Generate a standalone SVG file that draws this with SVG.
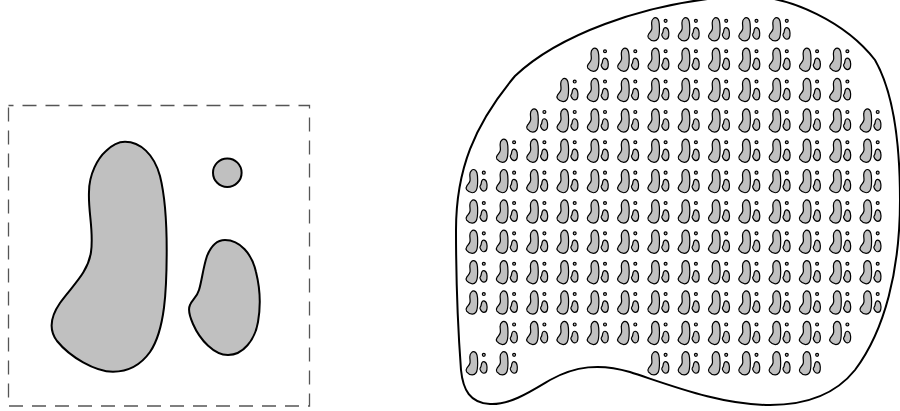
<svg xmlns="http://www.w3.org/2000/svg" xmlns:xlink="http://www.w3.org/1999/xlink" width="900" height="411" viewBox="0 0 900 411">
<style>
.b{fill:#c0c0c0;stroke:#000;stroke-linejoin:round}
.frame{fill:none;stroke:#555;stroke-width:1.3;stroke-dasharray:14 9;stroke-dashoffset:9}
.outer{fill:#fff;stroke:#000;stroke-width:2}
</style>
<defs>
<g id="shapes">
<path class="b" d="M125,141.7 C140,141.7 154,154 160,176 C165,196 166.7,225 166.7,250 C166.7,290 165,330 150,352 C140,366 126,371.7 113,371.7 C95,371.7 70,357 57,341 C48,329 51,316 60,303 C72,286 88,273 91,252 C94,231 88,212 89,192 C89,174 98,158 106,151 C112,145 118,141.7 125,141.7 Z"/>
<circle class="b" cx="227.3" cy="172.7" r="14.3"/>
<path class="b" d="M225,240 C240,240 252,254 256,272 C260,288 261,305 258,322 C255,340 243,355 228,355 C214,355 200,340 193,324 C189,315 188,309 190,305 C192,300 197,297 199,290 C202,280 203,268 207,256 C211,246 217,240 225,240 Z"/>
</g>
<g id="tile" transform="scale(0.101) translate(-8.5,-105)" stroke-width="12"><use xlink:href="#shapes" href="#shapes"/></g>
</defs>
<rect x="0" y="0" width="900" height="411" fill="#fff"/>
<g id="motif-panel">
<rect class="frame" x="8.5" y="105.5" width="301" height="300.5"/>
<g id="motif" stroke-width="2"><use xlink:href="#shapes" href="#shapes"/></g>
</g>
<g id="region">
<path class="outer" d="M740,-4 C792,-6 848,25 875,60 C895,95 900,150 900,200 C900,270 885,330 855,370 C835,395 805,405 770,405 C720,405 670,385 630,372 C600,363 575,366 550,380 C530,392 510,405 490,404 C470,403 463,390 461,370 C458,330 456,280 456,230 C456,170 474,125 515,76 C555,38 640,2 740,-4 Z"/>
</g>
<g id="tiles">
<g id="row0">
<use href="#tile" x="643.5" y="14"/><use href="#tile" x="673.8" y="14"/><use href="#tile" x="704.1" y="14"/><use href="#tile" x="734.4" y="14"/><use href="#tile" x="764.7" y="14"/>
</g>
<g id="row1">
<use href="#tile" x="582.9" y="44.4"/><use href="#tile" x="613.2" y="44.4"/><use href="#tile" x="643.5" y="44.4"/><use href="#tile" x="673.8" y="44.4"/><use href="#tile" x="704.1" y="44.4"/><use href="#tile" x="734.4" y="44.4"/><use href="#tile" x="764.7" y="44.4"/><use href="#tile" x="795" y="44.4"/><use href="#tile" x="825.3" y="44.4"/>
</g>
<g id="row2">
<use href="#tile" x="552.6" y="74.7"/><use href="#tile" x="582.9" y="74.7"/><use href="#tile" x="613.2" y="74.7"/><use href="#tile" x="643.5" y="74.7"/><use href="#tile" x="673.8" y="74.7"/><use href="#tile" x="704.1" y="74.7"/><use href="#tile" x="734.4" y="74.7"/><use href="#tile" x="764.7" y="74.7"/><use href="#tile" x="795" y="74.7"/><use href="#tile" x="825.3" y="74.7"/>
</g>
<g id="row3">
<use href="#tile" x="522.3" y="105.1"/><use href="#tile" x="552.6" y="105.1"/><use href="#tile" x="582.9" y="105.1"/><use href="#tile" x="613.2" y="105.1"/><use href="#tile" x="643.5" y="105.1"/><use href="#tile" x="673.8" y="105.1"/><use href="#tile" x="704.1" y="105.1"/><use href="#tile" x="734.4" y="105.1"/><use href="#tile" x="764.7" y="105.1"/><use href="#tile" x="795" y="105.1"/><use href="#tile" x="825.3" y="105.1"/><use href="#tile" x="855.6" y="105.1"/>
</g>
<g id="row4">
<use href="#tile" x="492" y="135.4"/><use href="#tile" x="522.3" y="135.4"/><use href="#tile" x="552.6" y="135.4"/><use href="#tile" x="582.9" y="135.4"/><use href="#tile" x="613.2" y="135.4"/><use href="#tile" x="643.5" y="135.4"/><use href="#tile" x="673.8" y="135.4"/><use href="#tile" x="704.1" y="135.4"/><use href="#tile" x="734.4" y="135.4"/><use href="#tile" x="764.7" y="135.4"/><use href="#tile" x="795" y="135.4"/><use href="#tile" x="825.3" y="135.4"/><use href="#tile" x="855.6" y="135.4"/>
</g>
<g id="row5">
<use href="#tile" x="461.7" y="165.8"/><use href="#tile" x="492" y="165.8"/><use href="#tile" x="522.3" y="165.8"/><use href="#tile" x="552.6" y="165.8"/><use href="#tile" x="582.9" y="165.8"/><use href="#tile" x="613.2" y="165.8"/><use href="#tile" x="643.5" y="165.8"/><use href="#tile" x="673.8" y="165.8"/><use href="#tile" x="704.1" y="165.8"/><use href="#tile" x="734.4" y="165.8"/><use href="#tile" x="764.7" y="165.8"/><use href="#tile" x="795" y="165.8"/><use href="#tile" x="825.3" y="165.8"/><use href="#tile" x="855.6" y="165.8"/>
</g>
<g id="row6">
<use href="#tile" x="461.7" y="196.2"/><use href="#tile" x="492" y="196.2"/><use href="#tile" x="522.3" y="196.2"/><use href="#tile" x="552.6" y="196.2"/><use href="#tile" x="582.9" y="196.2"/><use href="#tile" x="613.2" y="196.2"/><use href="#tile" x="643.5" y="196.2"/><use href="#tile" x="673.8" y="196.2"/><use href="#tile" x="704.1" y="196.2"/><use href="#tile" x="734.4" y="196.2"/><use href="#tile" x="764.7" y="196.2"/><use href="#tile" x="795" y="196.2"/><use href="#tile" x="825.3" y="196.2"/><use href="#tile" x="855.6" y="196.2"/>
</g>
<g id="row7">
<use href="#tile" x="461.7" y="226.5"/><use href="#tile" x="492" y="226.5"/><use href="#tile" x="522.3" y="226.5"/><use href="#tile" x="552.6" y="226.5"/><use href="#tile" x="582.9" y="226.5"/><use href="#tile" x="613.2" y="226.5"/><use href="#tile" x="643.5" y="226.5"/><use href="#tile" x="673.8" y="226.5"/><use href="#tile" x="704.1" y="226.5"/><use href="#tile" x="734.4" y="226.5"/><use href="#tile" x="764.7" y="226.5"/><use href="#tile" x="795" y="226.5"/><use href="#tile" x="825.3" y="226.5"/><use href="#tile" x="855.6" y="226.5"/>
</g>
<g id="row8">
<use href="#tile" x="461.7" y="256.9"/><use href="#tile" x="492" y="256.9"/><use href="#tile" x="522.3" y="256.9"/><use href="#tile" x="552.6" y="256.9"/><use href="#tile" x="582.9" y="256.9"/><use href="#tile" x="613.2" y="256.9"/><use href="#tile" x="643.5" y="256.9"/><use href="#tile" x="673.8" y="256.9"/><use href="#tile" x="704.1" y="256.9"/><use href="#tile" x="734.4" y="256.9"/><use href="#tile" x="764.7" y="256.9"/><use href="#tile" x="795" y="256.9"/><use href="#tile" x="825.3" y="256.9"/><use href="#tile" x="855.6" y="256.9"/>
</g>
<g id="row9">
<use href="#tile" x="461.7" y="287.2"/><use href="#tile" x="492" y="287.2"/><use href="#tile" x="522.3" y="287.2"/><use href="#tile" x="552.6" y="287.2"/><use href="#tile" x="582.9" y="287.2"/><use href="#tile" x="613.2" y="287.2"/><use href="#tile" x="643.5" y="287.2"/><use href="#tile" x="673.8" y="287.2"/><use href="#tile" x="704.1" y="287.2"/><use href="#tile" x="734.4" y="287.2"/><use href="#tile" x="764.7" y="287.2"/><use href="#tile" x="795" y="287.2"/><use href="#tile" x="825.3" y="287.2"/><use href="#tile" x="855.6" y="287.2"/>
</g>
<g id="row10">
<use href="#tile" x="492" y="317.6"/><use href="#tile" x="522.3" y="317.6"/><use href="#tile" x="552.6" y="317.6"/><use href="#tile" x="582.9" y="317.6"/><use href="#tile" x="613.2" y="317.6"/><use href="#tile" x="643.5" y="317.6"/><use href="#tile" x="673.8" y="317.6"/><use href="#tile" x="704.1" y="317.6"/><use href="#tile" x="734.4" y="317.6"/><use href="#tile" x="764.7" y="317.6"/><use href="#tile" x="795" y="317.6"/><use href="#tile" x="825.3" y="317.6"/>
</g>
<g id="row11">
<use href="#tile" x="461.7" y="348"/><use href="#tile" x="492" y="348"/><use href="#tile" x="643.5" y="348"/><use href="#tile" x="673.8" y="348"/><use href="#tile" x="704.1" y="348"/><use href="#tile" x="734.4" y="348"/><use href="#tile" x="764.7" y="348"/><use href="#tile" x="795" y="348"/>
</g>
</g>
</svg>
